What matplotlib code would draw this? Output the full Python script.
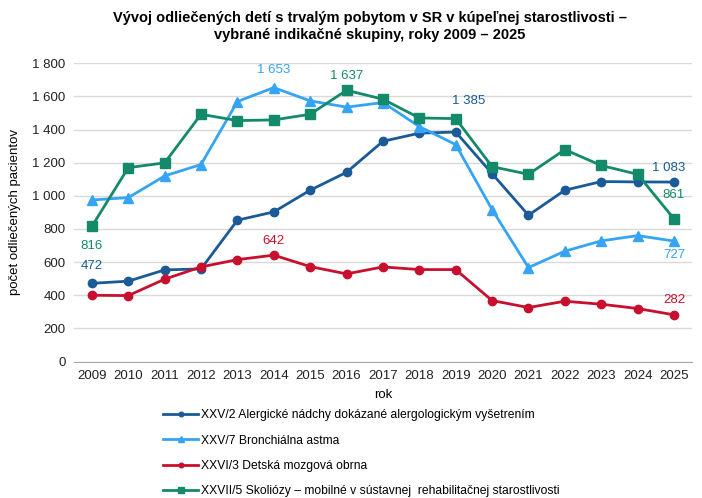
import matplotlib.pyplot as plt

plt.rcParams["font.family"] = ["Liberation Sans", "DejaVu Sans"]

years = list(range(2009, 2026))
alergie = [472, 485, 553, 559, 853, 903, 1034, 1142, 1329, 1378, 1385, 1134, 883, 1034, 1086, 1084, 1083]
astma = [975, 989, 1120, 1189, 1569, 1653, 1573, 1535, 1563, 1418, 1309, 917, 567, 666, 728, 760, 727]
obrna = [400, 398, 497, 571, 615, 642, 573, 529, 571, 555, 555, 368, 326, 364, 346, 320, 282]
skoliozy = [816, 1170, 1199, 1492, 1454, 1458, 1492, 1637, 1583, 1470, 1466, 1176, 1130, 1279, 1183, 1130, 861]

names = [
    "XXV/2 Alergické nádchy dokázané alergologickým vyšetrením",
    "XXV/7 Bronchiálna astma",
    "XXVI/3 Detská mozgová obrna",
    "XXVII/5 Skoliózy \u2013 mobilné v sústavnej  rehabilitačnej starostlivosti",
]
colors = ["#1a5a96", "#35a4f5", "#c8102e", "#138a6a"]
markers = ["o", "^", "o", "s"]
msizes = [6, 7, 6, 7.5]


def fmt(v):
    return f"{v:,}".replace(",", " ")


fig = plt.figure(figsize=(7.02, 4.98), dpi=100)
ax = fig.add_axes([0.105, 0.274, 0.881, 0.599])

series = [alergie, astma, obrna, skoliozy]
for vals, name, c, m, ms in zip(series, names, colors, markers, msizes):
    ax.plot(years, vals, color=c, marker=m, markersize=ms, linewidth=2, label=name)

ax.set_xlim(2008.5, 2025.5)
ax.set_ylim(0, 1800)
ax.set_yticks(range(0, 1801, 200))
ax.set_yticklabels([fmt(v) for v in range(0, 1801, 200)])
ax.set_xticks(years)
ax.tick_params(axis="both", length=0, labelsize=9.5, colors="#222222", pad=6)
ax.grid(axis="y", color="#d9d9d9", linewidth=1)
ax.set_axisbelow(True)
for s in ["top", "right", "left"]:
    ax.spines[s].set_visible(False)
ax.spines["bottom"].set_color("#a6a6a6")

ax.set_xlabel("rok", fontsize=9.5, labelpad=5)
ax.set_ylabel("počet odliečených pacientov", fontsize=9.5, labelpad=8)

# data labels
lab = dict(fontsize=9.5, ha="center")
ax.annotate(fmt(alergie[0]), (2009, alergie[0]), xytext=(0, 8), textcoords="offset points", color=colors[0], va="bottom", **lab)
ax.annotate(fmt(skoliozy[0]), (2009, skoliozy[0]), xytext=(0, -10), textcoords="offset points", color=colors[3], va="top", **lab)
ax.annotate(fmt(astma[5]), (2014, astma[5]), xytext=(0, 8), textcoords="offset points", color=colors[1], va="bottom", **lab)
ax.annotate(fmt(obrna[5]), (2014, obrna[5]), xytext=(0, 6), textcoords="offset points", color=colors[2], va="bottom", **lab)
ax.annotate(fmt(skoliozy[7]), (2016, skoliozy[7]), xytext=(0, 6), textcoords="offset points", color=colors[3], va="bottom", **lab)
ax.annotate(fmt(alergie[10]), (2019, alergie[10]), xytext=(9, 18), textcoords="offset points", color=colors[0], va="bottom", **lab)
ax.annotate(fmt(alergie[16]), (2025, alergie[16]), xytext=(-4, 6), textcoords="offset points", color=colors[0], va="bottom", **lab)
ax.annotate(fmt(skoliozy[16]), (2025, skoliozy[16]), xytext=(0, 13), textcoords="offset points", color=colors[3], va="bottom", **lab)
ax.annotate(fmt(astma[16]), (2025, astma[16]), xytext=(0, -6), textcoords="offset points", color=colors[1], va="top", **lab)
ax.annotate(fmt(obrna[16]), (2025, obrna[16]), xytext=(0, 6), textcoords="offset points", color=colors[2], va="bottom", **lab)

fig.suptitle("Vývoj odliečených detí s trvalým pobytom v SR v kúpeľnej starostlivosti \u2013\n"
             "vybrané indikačné skupiny, roky 2009 \u2013 2025",
             fontsize=10.5, fontweight="bold", x=0.527, y=0.978, linespacing=1.3)

handles, labels = ax.get_legend_handles_labels()
leg = fig.legend(handles, labels, loc="upper left", bbox_to_anchor=(0.224, 0.19),
                 frameon=False, fontsize=8.7, handlelength=2.9, markerscale=0.55,
                 labelspacing=1.1, handletextpad=0.25, borderpad=0)

fig.savefig("out.png", dpi=100)
